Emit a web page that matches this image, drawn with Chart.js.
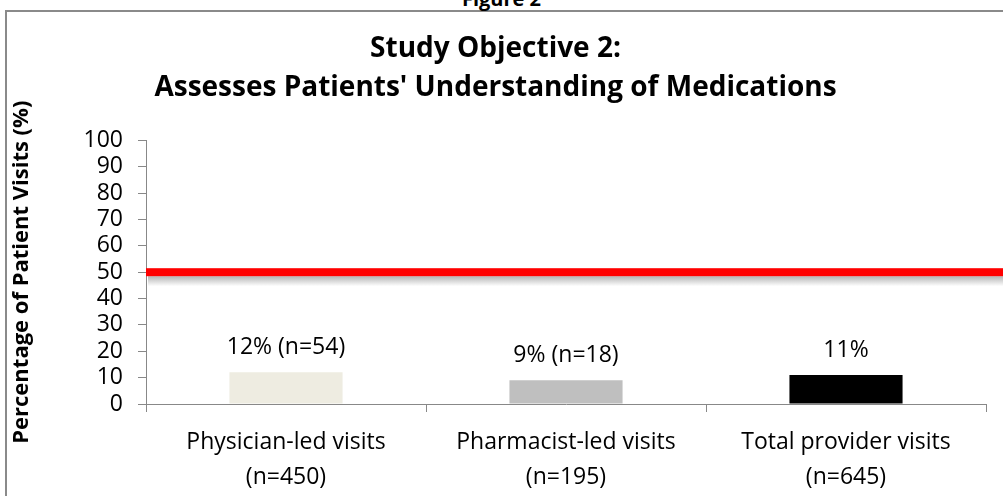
<!DOCTYPE html>
<html>
<head>
<meta charset="utf-8">
<script src="https://cdn.jsdelivr.net/npm/chart.js@4.4.0/dist/chart.umd.min.js"></script>
<style>
  html, body { margin: 0; padding: 0; background: #fff; overflow: hidden; }
  #frame {
    position: absolute; left: 5px; top: 10px; width: 1100px; height: 600px;
    border: 2px solid #8a8a8a; box-sizing: border-box;
  }
  #figLabel {
    position: absolute; left: 0; width: 1003px; top: -15px; text-align: center;
    font: bold 20px "Open Sans", sans-serif; color: #000;
  }
  #wrap { position: absolute; left: 0; top: 0; width: 1003px; height: 496px; }
</style>
</head>
<body>
<div id="frame"></div>
<div id="figLabel">Figure 2</div>
<div id="wrap"><canvas id="grafico" width="1003" height="496"></canvas></div>
<script>
const categorias = [
    ['Physician-led visits', '(n=450)'],
    ['Pharmacist-led visits', '(n=195)'],
    ['Total provider visits', '(n=645)']
];
const porcentajes = [12, 9, 11];
const etiquetas = ['12% (n=54)', '9% (n=18)', '11%'];
const colores = ['#EEECE1', '#BFBFBF', '#000000'];
const lineaObjetivo = 50;
const ticksY = [0, 10, 20, 30, 40, 50, 60, 70, 80, 90, 100];

const fuente = '"Open Sans", sans-serif';

// linea roja de referencia con sombra
const pluginLinea = {
    id: 'lineaObjetivo',
    afterDatasetsDraw(chart) {
        const ctx = chart.ctx;
        const y = chart.scales.y.getPixelForValue(lineaObjetivo);
        const x0 = chart.chartArea.left;
        const x1 = chart.width;
        ctx.save();
        const grad = ctx.createLinearGradient(0, y + 4, 0, y + 14);
        grad.addColorStop(0, 'rgba(120,120,120,0.55)');
        grad.addColorStop(1, 'rgba(120,120,120,0)');
        ctx.fillStyle = grad;
        ctx.fillRect(x0 + 2, y + 4, x1 - x0, 10);
        ctx.fillStyle = '#FF0000';
        ctx.fillRect(x0, y - 4, x1 - x0, 8);
        ctx.restore();
    }
};

// etiquetas encima de las barras
const pluginEtiquetas = {
    id: 'etiquetasBarras',
    afterDatasetsDraw(chart) {
        const ctx = chart.ctx;
        const meta = chart.getDatasetMeta(0);
        ctx.save();
        ctx.font = '23px ' + fuente;
        ctx.fillStyle = '#000';
        ctx.textAlign = 'center';
        ctx.textBaseline = 'middle';
        meta.data.forEach(function(bar, i) {
            ctx.fillText(etiquetas[i], bar.x, bar.y - 25);
        });
        ctx.restore();
    }
};

document.addEventListener('DOMContentLoaded', function() {
    const ctx = document.getElementById('grafico');
    new Chart(ctx, {
        type: 'bar',
        data: {
            labels: categorias,
            datasets: [{
                data: porcentajes,
                backgroundColor: colores,
                borderWidth: 0,
                categoryPercentage: 1,
                barPercentage: 0.404
            }]
        },
        options: {
            responsive: false,
            animation: false,
            layout: { padding: { left: 5, right: 17, top: 0, bottom: 0 } },
            plugins: {
                legend: { display: false },
                tooltip: { enabled: false },
                title: {
                    display: true,
                    text: ['Study Objective 2:', "Assesses Patients' Understanding of Medications"],
                    color: '#000',
                    font: { family: fuente, size: 28, weight: 'bold', lineHeight: 1.4 },
                    padding: { top: 29, bottom: 33 }
                }
            },
            scales: {
                x: {
                    grid: { drawOnChartArea: false, drawTicks: true, tickLength: 8, color: '#888' },
                    border: { color: '#888', width: 1 },
                    ticks: {
                        color: '#000',
                        font: { family: fuente, size: 23, lineHeight: 1.52 },
                        padding: 13,
                        maxRotation: 0
                    },
                    afterFit(scale) { scale.height = 92; }
                },
                y: {
                    min: 0,
                    max: 100,
                    afterBuildTicks(scale) {
                        scale.ticks = ticksY.map(v => ({ value: v }));
                    },
                    grid: { drawOnChartArea: false, drawTicks: true, tickLength: 8, color: '#888' },
                    border: { color: '#888', width: 1 },
                    ticks: {
                        color: '#000',
                        font: { family: fuente, size: 23, lineHeight: 1.0 },
                        padding: 15,
                        autoSkip: false
                    },
                    title: {
                        display: true,
                        text: 'Percentage of Patient Visits (%)',
                        color: '#000',
                        font: { family: fuente, size: 22, weight: 'bold', lineHeight: 1.2 },
                        padding: { top: 4, bottom: 0 }
                    },
                    afterFit(scale) { scale.width = 141; }
                }
            }
        },
        plugins: [pluginLinea, pluginEtiquetas]
    });
});
</script>
</body>
</html>
